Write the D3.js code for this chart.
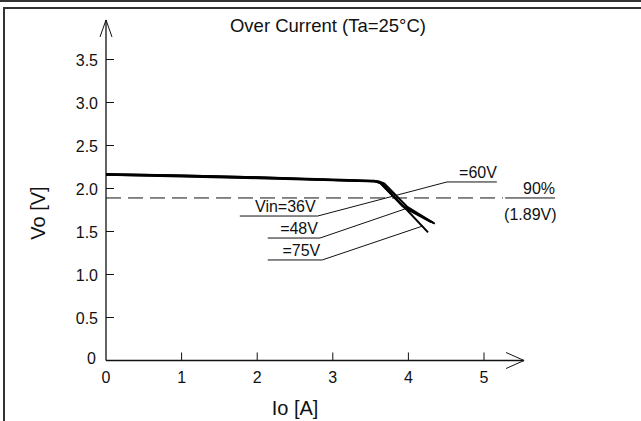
<!DOCTYPE html>
<html>
<head>
<meta charset="utf-8">
<script src="https://cdn.jsdelivr.net/npm/d3@7"></script>
<style>
  body { margin: 0; background: #fff; }
  svg text { font-family: "Liberation Sans", Arial, sans-serif; fill: #111; }
</style>
</head>
<body>
<svg id="chart" width="641" height="421"></svg>
<script>
// Io [A] vs Vo [V]
const xTicks = [1, 2, 3, 4, 5];
const yTicks = [0.5, 1.0, 1.5, 2.0, 2.5, 3.0, 3.5];

const v36 = [[0, 2.17], [1, 2.15], [2, 2.13], [3, 2.105], [3.55, 2.09], [3.62, 2.07], [3.92, 1.80], [4.33, 1.60]];
const v48 = [[0, 2.16], [1, 2.145], [2, 2.125], [3, 2.10], [3.55, 2.085], [3.64, 2.06], [3.94, 1.78], [4.30, 1.61]];
const v60 = [[0, 2.165], [1, 2.15], [2, 2.13], [3, 2.10], [3.6, 2.085], [3.68, 2.06], [3.98, 1.79], [4.35, 1.59]];
const v75 = [[0, 2.16], [1, 2.14], [2, 2.12], [3, 2.095], [3.58, 2.08], [3.66, 2.05], [4.26, 1.49]];

const threshold = 1.89;

// labels: text, underline [x0, x1, y], leader end (data units)
const labels = [
    { text: "Vin=36V", under: [1.77, 2.80, 1.68], leader: [4.51, 2.076] },
    { text: "=48V", under: [2.14, 2.83, 1.424], leader: [3.955, 1.762] },
    { text: "=75V", under: [2.14, 2.86, 1.169], leader: [4.19, 1.564] },
    { text: "=60V", under: [4.51, 5.17, 2.076], leader: null, right: true }
];

const svg = d3.select("#chart");

const x = d3.scaleLinear().domain([0, 5]).range([106, 484]);
const y = d3.scaleLinear().domain([0, 3.5]).range([360.5, 59.5]);

// frame
svg.append("line").attr("x1", 0).attr("x2", 641).attr("y1", 1).attr("y2", 1)
    .attr("stroke", "#333").attr("stroke-width", 2);
svg.append("line").attr("x1", 3).attr("x2", 641).attr("y1", 8).attr("y2", 8)
    .attr("stroke", "#333").attr("stroke-width", 2);
svg.append("line").attr("x1", 4).attr("x2", 4).attr("y1", 8).attr("y2", 421)
    .attr("stroke", "#333").attr("stroke-width", 2);

// title
svg.append("text").attr("x", 328).attr("y", 32).attr("text-anchor", "middle")
    .attr("font-size", "18.5px").text("Over Current (Ta=25°C)");

// axes lines with arrows
const g = svg.append("g").attr("stroke", "#111").attr("fill", "none");
g.append("line").attr("x1", x(0)).attr("x2", x(5.53)).attr("y1", y(0)).attr("y2", y(0)).attr("stroke-width", 1.3);
g.append("line").attr("x1", x(0)).attr("x2", x(0)).attr("y1", y(0)).attr("y2", y(3.96)).attr("stroke-width", 1.3);
g.append("path").attr("stroke-width", 1)
    .attr("d", `M${x(5.53) - 18},${y(0) - 8}L${x(5.53)},${y(0)}L${x(5.53) - 18},${y(0) + 8}`);
g.append("path").attr("stroke-width", 1)
    .attr("d", `M${x(0) - 6},${y(3.96) + 17}L${x(0)},${y(3.96)}L${x(0) + 6},${y(3.96) + 17}`);

// ticks (inward)
g.selectAll(".xt").data(xTicks).enter().append("line")
    .attr("x1", d => x(d)).attr("x2", d => x(d))
    .attr("y1", y(0)).attr("y2", y(0) - 8).attr("stroke-width", 1);
g.selectAll(".yt").data(yTicks).enter().append("line")
    .attr("x1", x(0)).attr("x2", x(0) + 8)
    .attr("y1", d => y(d)).attr("y2", d => y(d)).attr("stroke-width", 1);

// tick labels
svg.selectAll(".xl").data([0].concat(xTicks)).enter().append("text")
    .attr("x", d => x(d)).attr("y", y(0) + 22)
    .attr("text-anchor", "middle").attr("font-size", "16px")
    .text(d => d);
svg.selectAll(".yl").data(yTicks).enter().append("text")
    .attr("x", x(0) - 8).attr("y", d => y(d) + 6)
    .attr("text-anchor", "end").attr("font-size", "16px")
    .text(d => d.toFixed(1));
svg.append("text").attr("x", x(0) - 10).attr("y", y(0) + 3)
    .attr("text-anchor", "end").attr("font-size", "16px").text("0");

// axis titles
svg.append("text").attr("x", 295).attr("y", 415).attr("text-anchor", "middle")
    .attr("font-size", "20px").text("Io [A]");
svg.append("text").attr("transform", "translate(45,213) rotate(-90)")
    .attr("text-anchor", "middle").attr("font-size", "20px").text("Vo [V]");

// 90% threshold
svg.append("line").attr("x1", x(0)).attr("x2", x(5.25))
    .attr("y1", y(threshold)).attr("y2", y(threshold))
    .attr("stroke", "#111").attr("stroke-width", 1).attr("stroke-dasharray", "15,7");
svg.append("line").attr("x1", x(5.28)).attr("x2", x(5.94))
    .attr("y1", y(threshold)).attr("y2", y(threshold))
    .attr("stroke", "#111").attr("stroke-width", 1);
svg.append("text").attr("x", x(5.94)).attr("y", y(threshold) - 4)
    .attr("text-anchor", "end").attr("font-size", "16px").text("90%");
svg.append("text").attr("x", x(5.96)).attr("y", y(threshold) + 22)
    .attr("text-anchor", "end").attr("font-size", "16px").text("(1.89V)");

// curves
const line = d3.line().x(d => x(d[0])).y(d => y(d[1]));
svg.selectAll(".curve").data([v36, v48, v60, v75]).enter().append("path")
    .attr("d", line).attr("fill", "none").attr("stroke", "#000")
    .attr("stroke-width", 2).attr("stroke-linejoin", "round");

// labels with underlines and leaders
labels.forEach(l => {
    const [u0, u1, uy] = l.under;
    svg.append("line").attr("x1", x(u0)).attr("x2", x(u1))
        .attr("y1", y(uy)).attr("y2", y(uy)).attr("stroke", "#111").attr("stroke-width", 1);
    if (l.leader) {
        svg.append("line").attr("x1", x(u1)).attr("y1", y(uy))
            .attr("x2", x(l.leader[0])).attr("y2", y(l.leader[1]))
            .attr("stroke", "#111").attr("stroke-width", 1);
    }
    svg.append("text").attr("x", l.right ? x(u1) : x(u1) - 2).attr("y", y(uy) - 4)
        .attr("text-anchor", "end").attr("font-size", "16px").text(l.text);
});
</script>
</body>
</html>
